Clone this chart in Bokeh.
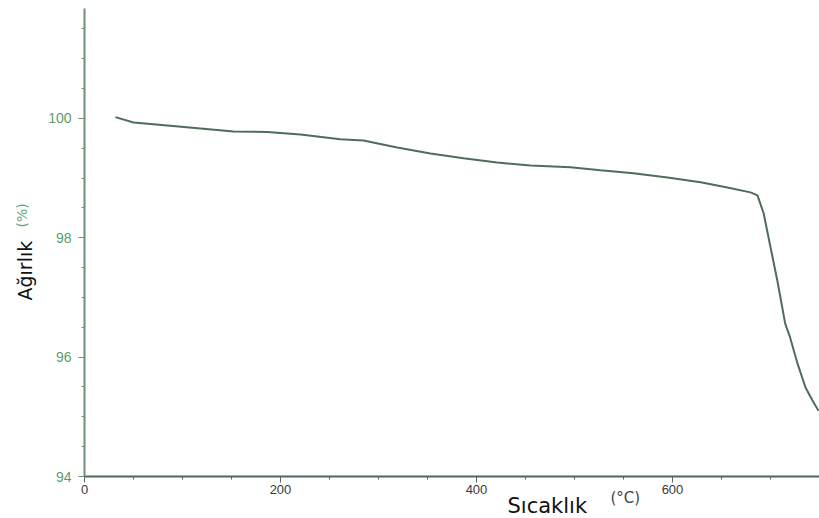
import numpy as np
from bokeh.plotting import figure
from bokeh.models import Range1d, Title, FixedTicker
from bokeh.embed import file_html
from bokeh.resources import INLINE

# Temperature (°C) and weight (%)
temperature = [31.6, 50, 84.7, 118.4, 152, 186.7, 220.4, 261, 284.7, 319, 353, 386.7,
               421, 455, 496, 526.5, 560, 595, 628.6, 656, 679.6, 686.7, 693, 700,
               707, 715, 720, 727.6, 735.7, 743, 749]
weight = [100.02, 99.93, 99.88, 99.83, 99.78, 99.77, 99.73, 99.65, 99.63, 99.51, 99.41, 99.33,
          99.26, 99.21, 99.18, 99.13, 99.08, 99.01, 98.93, 98.84, 98.76, 98.71, 98.41, 97.84,
          97.28, 96.56, 96.33, 95.89, 95.49, 95.27, 95.10]

x_ticks = [0, 200, 400, 600]
y_ticks = [94, 96, 98, 100]

p = figure(width=819, height=518, output_backend="svg", toolbar_location=None,
           x_range=Range1d(0, 750), y_range=Range1d(94, 101.84),
           min_border_left=84, min_border_bottom=42, min_border_top=8, min_border_right=0)
p.outline_line_color = None
p.xgrid.visible = False
p.ygrid.visible = False
p.background_fill_color = "white"
p.border_fill_color = "white"

p.line(temperature, weight, line_color="#4f6d58", line_width=2)

p.xaxis.ticker = FixedTicker(ticks=x_ticks, minor_ticks=list(range(0, 751, 50)))
p.yaxis.ticker = FixedTicker(ticks=y_ticks, minor_ticks=list(np.arange(94, 102, 0.5)))

for ax in (p.xaxis, p.yaxis):
    ax.major_tick_in = 0
    ax.major_tick_out = 6
    ax.minor_tick_in = 0
    ax.minor_tick_out = 3
    ax.major_label_text_font = "Liberation Sans"
    ax.axis_line_width = 2

p.xaxis.axis_line_color = "#56655b"
p.xaxis.major_tick_line_color = "#56655b"
p.xaxis.minor_tick_line_color = "#56655b"
p.xaxis.major_label_text_color = "#3a3a3a"
p.xaxis.major_label_text_font_size = "13px"
p.xaxis.major_label_standoff = 2

p.yaxis.axis_line_color = "#6f9077"
p.yaxis.major_tick_line_color = "#6f9077"
p.yaxis.minor_tick_line_color = "#6f9077"
p.yaxis.major_label_text_color = "#5f9a6e"
p.yaxis.major_label_text_font_size = "14px"
p.yaxis.major_label_standoff = 7

def add_title(text, side, size, color, offset, standoff):
    p.add_layout(Title(text=text, align="left", offset=offset, standoff=standoff,
                       text_font="DejaVu Sans", text_font_style="normal",
                       text_font_size=size, text_color=color), side)

add_title("Ağırlık", "left", "19px", "#111111", 176, 20)
add_title("(%)", "left", "14px", "#6aa57a", 249, -57)
add_title("(°C)", "below", "15px", "#444444", 526, -20)
add_title("Sıcaklık", "below", "21px", "#111111", 423, -10)

open("out.html", "w").write(file_html(p, INLINE))
